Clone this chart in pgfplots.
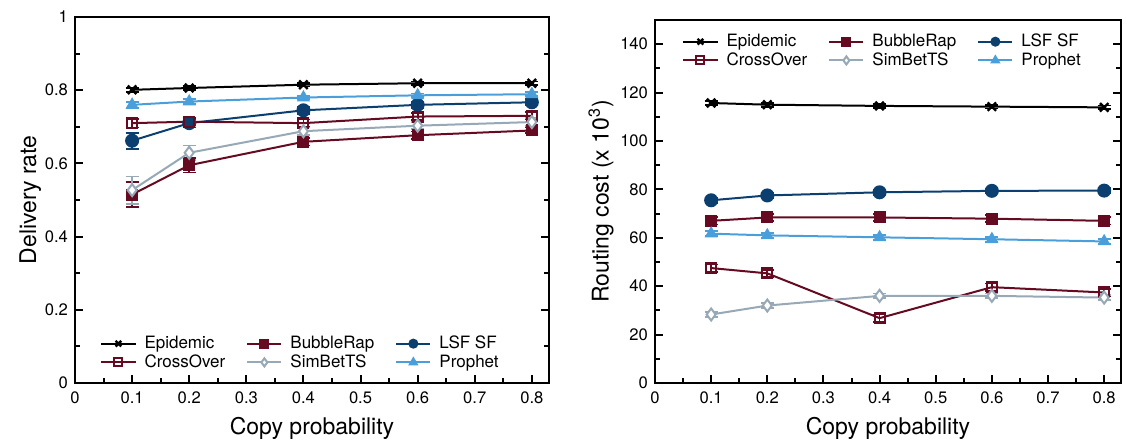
\documentclass[border=0pt]{standalone}
\usepackage{pgfplots}
\pgfplotsset{compat=1.18}
\usepackage{fontspec}
\setmainfont{TeX Gyre Heros}
\definecolor{cEpi}{HTML}{000000}
\definecolor{cRed}{HTML}{660A22}
\definecolor{cNavy}{HTML}{0B3F6F}
\definecolor{cGrey}{HTML}{97A8B6}
\definecolor{cLight}{HTML}{4A9FDB}
\pgfplotsset{
  mystyle/.style={
    scale only axis,
    axis line style={line width=1.2pt},
    tick style={line width=1pt, black},
    major tick length=4pt, minor tick length=2.5pt,
    tick align=inside,
    xtick pos=bottom, ytick pos=both,
    xmin=0, xmax=0.83,
    xtick={0,0.1,...,0.8},
    minor x tick num=1,
    minor y tick num=1,
    /pgf/number format/assume math mode=true,
    tick label style={font=\fontsize{8.3}{10}\selectfont},
    label style={font=\fontsize{11.5}{13}\selectfont},
    xticklabel style={yshift=-1pt},
    xlabel={Copy probability},
    legend columns=3,
    legend cell align=left,
    legend style={draw=none, fill=none, font=\fontsize{8.5}{9}\selectfont,
      row sep=-2.5pt,
      /tikz/every even column/.append style={column sep=8.5pt},
      /tikz/every odd column/.append style={column sep=2pt}},
    legend image post style={mark size=2pt},
    every axis plot/.append style={line width=1pt},
    error bars/y dir=both, error bars/y explicit,
    error bars/error bar style={line width=0.9pt},
    error bars/error mark options={rotate=90, mark size=3.3pt, line width=0.9pt},
  },
  sEpi/.style={color=cEpi, mark=x, mark size=3pt, mark options={line width=1.2pt, solid}},
  sBub/.style={color=cRed, mark=square*, mark size=2.5pt, mark options={fill=cRed, solid}},
  sLSF/.style={color=cNavy, mark=*, mark size=3pt, mark options={fill=cNavy, solid}},
  sCro/.style={color=cRed, mark=square, mark size=2.5pt, mark options={fill=white, solid}},
  sSim/.style={color=cGrey, mark=diamond*, mark size=3pt, mark options={fill=white, solid}},
  sPro/.style={color=cLight, mark=triangle*, mark size=2.8pt, mark options={fill=cLight, solid}},
}
\begin{document}
\begin{tikzpicture}
\useasboundingbox (0,0) rectangle (564pt,219.5pt);
\begin{axis}[mystyle,
  at={(37.5pt,28pt)}, anchor=south west,
  width=237pt, height=183pt,
  ymin=0, ymax=1,
  ytick={0,0.2,...,1},
  yticklabels={0,0.2,0.4,0.6,0.8,1},
  ylabel={Delivery rate},
  ylabel style={yshift=-5pt},
  legend style={at={(0.04,0.012)}, anchor=south west},
]
\addplot[sEpi] coordinates {(0.1,0.801) +- (0,0.006) (0.2,0.806) +- (0,0.005) (0.4,0.815) +- (0,0.005) (0.6,0.819) +- (0,0.005) (0.8,0.819) +- (0,0.005)};
\addlegendentry{Epidemic}
\addplot[sBub] coordinates {(0.1,0.515) +- (0,0.035) (0.2,0.595) +- (0,0.02) (0.4,0.659) +- (0,0.01) (0.6,0.677) +- (0,0.01) (0.8,0.690) +- (0,0.008)};
\addlegendentry{BubbleRap}
\addplot[sLSF] coordinates {(0.1,0.662) +- (0,0.022) (0.2,0.710) +- (0,0.012) (0.4,0.745) +- (0,0.01) (0.6,0.760) +- (0,0.008) (0.8,0.767) +- (0,0.008)};
\addlegendentry{LSF SF}
\addplot[sCro] coordinates {(0.1,0.710) +- (0,0.012) (0.2,0.714) +- (0,0.01) (0.4,0.710) +- (0,0.01) (0.6,0.728) +- (0,0.01) (0.8,0.730) +- (0,0.01)};
\addlegendentry{CrossOver}
\addplot[sSim] coordinates {(0.1,0.527) +- (0,0.037) (0.2,0.629) +- (0,0.02) (0.4,0.688) +- (0,0.01) (0.6,0.703) +- (0,0.01) (0.8,0.713) +- (0,0.01)};
\addlegendentry{SimBetTS}
\addplot[sPro] coordinates {(0.1,0.760) +- (0,0.008) (0.2,0.769) +- (0,0.006) (0.4,0.780) +- (0,0.005) (0.6,0.786) +- (0,0.005) (0.8,0.789) +- (0,0.005)};
\addlegendentry{Prophet}
\end{axis}
\begin{axis}[mystyle,
  at={(327.5pt,28pt)}, anchor=south west,
  width=233pt, height=181.5pt,
  ymin=0, ymax=150,
  ytick={0,20,...,140},
  ylabel={Routing cost (x 10\textsuperscript{3})},
  ylabel style={yshift=-3.5pt},
  legend style={at={(0.045,0.985)}, anchor=north west},
]
\addplot[sEpi] coordinates {(0.1,115.7) +- (0,0.8) (0.2,115.0) +- (0,0.8) (0.4,114.5) +- (0,0.8) (0.6,114.2) +- (0,0.8) (0.8,113.9) +- (0,0.8)};
\addlegendentry{Epidemic}
\addplot[sBub] coordinates {(0.1,67.0) +- (0,1.5) (0.2,68.4) +- (0,1.5) (0.4,68.4) +- (0,1.5) (0.6,67.9) +- (0,1.5) (0.8,67.0) +- (0,1.5)};
\addlegendentry{BubbleRap}
\addplot[sLSF] coordinates {(0.1,75.5) +- (0,1) (0.2,77.5) +- (0,1) (0.4,78.8) +- (0,1) (0.6,79.4) +- (0,1) (0.8,79.5) +- (0,1)};
\addlegendentry{LSF SF}
\addplot[sCro] coordinates {(0.1,47.5) +- (0,1.5) (0.2,45.3) +- (0,1.5) (0.4,26.8) +- (0,1.5) (0.6,39.6) +- (0,1.5) (0.8,37.4) +- (0,1.5)};
\addlegendentry{CrossOver}
\addplot[sSim] coordinates {(0.1,28.3) +- (0,1) (0.2,32.0) +- (0,1) (0.4,36.0) +- (0,1) (0.6,36.0) +- (0,1) (0.8,35.3) +- (0,1)};
\addlegendentry{SimBetTS}
\addplot[sPro] coordinates {(0.1,61.7) +- (0,1) (0.2,61.0) +- (0,1) (0.4,60.2) +- (0,1) (0.6,59.4) +- (0,1) (0.8,58.5) +- (0,1)};
\addlegendentry{Prophet}
\end{axis}
\end{tikzpicture}
\end{document}
